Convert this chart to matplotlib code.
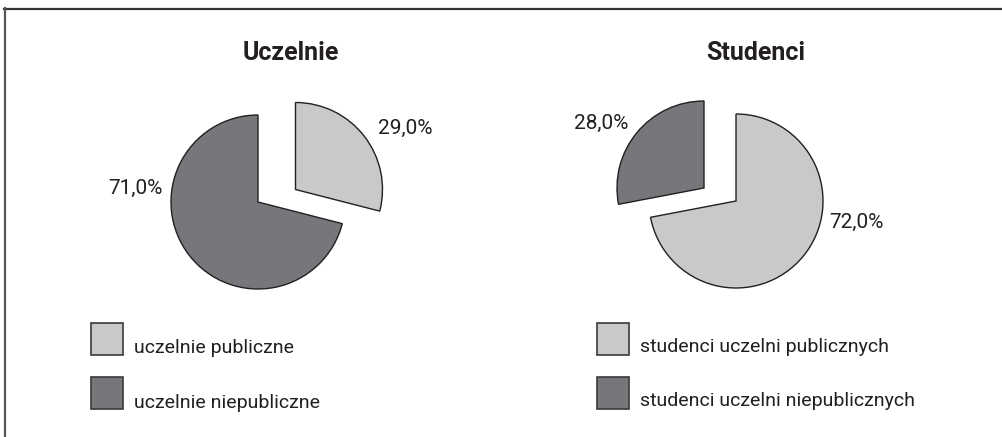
import matplotlib.pyplot as plt
from matplotlib.lines import Line2D
from matplotlib.patches import Rectangle

# udział uczelni i studentów wg typu uczelni (%)
kategorie_uczelnie = ["uczelnie publiczne", "uczelnie niepubliczne"]
udzial_uczelnie = [29.0, 71.0]

kategorie_studenci = ["studenci uczelni publicznych", "studenci uczelni niepublicznych"]
udzial_studenci = [72.0, 28.0]

tytuly = ["Uczelnie", "Studenci"]

jasny = "#c8c9cb"
ciemny = "#76777b"
krawedz = "#231f20"

W, H = 1002, 437
fig = plt.figure(figsize=(W / 100, H / 100), dpi=100)
ax = fig.add_axes([0, 0, 1, 1])

reg = ["Roboto", "DejaVu Sans"]
bold = ["Roboto", "DejaVu Sans"]


def fmt(v):
    return f"{v:.1f}%".replace(".", ",")


def wykres(dane, srodek, wysun, przes, poz_etykiet, tytul, poz_tytulu):
    cx, cy = srodek[0], H - srodek[1]
    wedges, _ = ax.pie(dane, colors=[jasny, ciemny], startangle=90,
                       counterclock=False, radius=87, center=(cx, cy),
                       wedgeprops=dict(edgecolor=krawedz, linewidth=1.0))
    # wysunięty wycinek
    wedges[wysun].set_center((cx + przes[0], cy - przes[1]))
    for v, (x, y) in zip(dane, poz_etykiet):
        ax.text(x, H - y, fmt(v), fontsize=15, family=reg, color="#231f20",
                ha="center", va="center")
    ax.text(poz_tytulu[0], H - poz_tytulu[1], tytul, fontsize=18,
            family=bold, fontweight="bold", color="#231f20",
            ha="center", va="center")


wykres(udzial_uczelnie, (258, 202), 0, (37.5, -12.5),
       [(405, 128.5), (135, 188.5)], tytuly[0], (291, 53))
wykres(udzial_studenci, (736, 201), 1, (-32, -13),
       [(856, 222.5), (601.5, 123.5)], tytuly[1], (756, 53))


def legenda(kategorie, x0, y_gora, baseline):
    for kat, kol, yg, yb in zip(kategorie, [jasny, ciemny], y_gora, baseline):
        ax.add_patch(Rectangle((x0, H - yg - 32), 32, 32, facecolor=kol,
                               edgecolor="#3a3a3a", linewidth=1.2))
        ax.text(x0 + 43, H - yb, kat, fontsize=14, family=reg,
                color="#231f20", ha="left", va="baseline")


legenda(kategorie_uczelnie, 91, [323, 377], [353, 408])
legenda(kategorie_studenci, 597, [323, 377], [352, 406])

ax.set_xlim(0, W)
ax.set_ylim(0, H)
ax.set_aspect("auto")
ax.axis("off")

# ramka: góra i lewa krawędź
fig.add_artist(Line2D([4 / W, 1], [1 - 8.5 / H] * 2, color="#333333", linewidth=1.6))
fig.add_artist(Line2D([4.5 / W] * 2, [0, 1 - 8 / H], color="#555555", linewidth=1.6))

fig.savefig("out.png", dpi=100)
